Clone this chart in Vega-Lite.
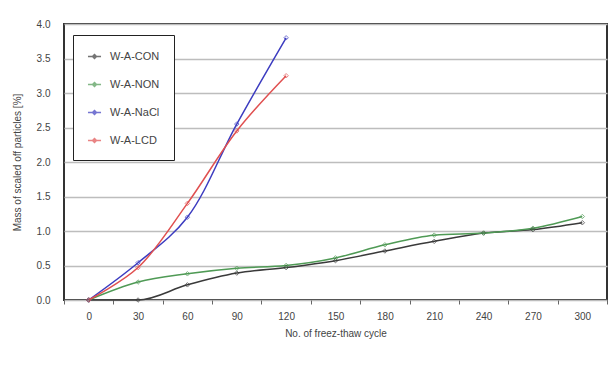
{
  "$schema": "https://vega.github.io/schema/vega-lite/v6.json",
  "autosize": {"type": "none"},
  "width": 543,
  "height": 276,
  "padding": {"left": 64, "top": 24, "right": 4, "bottom": 73},
  "background": "white",
  "config": {
    "font": "Liberation Sans",
    "view": {"stroke": "#333333", "strokeWidth": 2},
    "axis": {"labelColor": "#444", "titleColor": "#444", "labelFontSize": 10, "titleFontSize": 10, "titleFontWeight": "normal"}
  },
  "data": {
    "values": [
      {"cycle": 0, "series": "W-A-CON", "mass": 0.0},
      {"cycle": 30, "series": "W-A-CON", "mass": 0.0},
      {"cycle": 60, "series": "W-A-CON", "mass": 0.22},
      {"cycle": 90, "series": "W-A-CON", "mass": 0.39},
      {"cycle": 120, "series": "W-A-CON", "mass": 0.47},
      {"cycle": 150, "series": "W-A-CON", "mass": 0.57},
      {"cycle": 180, "series": "W-A-CON", "mass": 0.71},
      {"cycle": 210, "series": "W-A-CON", "mass": 0.85},
      {"cycle": 240, "series": "W-A-CON", "mass": 0.97},
      {"cycle": 270, "series": "W-A-CON", "mass": 1.02},
      {"cycle": 300, "series": "W-A-CON", "mass": 1.12},
      {"cycle": 0, "series": "W-A-NON", "mass": 0.0},
      {"cycle": 30, "series": "W-A-NON", "mass": 0.26},
      {"cycle": 60, "series": "W-A-NON", "mass": 0.38},
      {"cycle": 90, "series": "W-A-NON", "mass": 0.46},
      {"cycle": 120, "series": "W-A-NON", "mass": 0.5},
      {"cycle": 150, "series": "W-A-NON", "mass": 0.61},
      {"cycle": 180, "series": "W-A-NON", "mass": 0.8},
      {"cycle": 210, "series": "W-A-NON", "mass": 0.94},
      {"cycle": 240, "series": "W-A-NON", "mass": 0.97},
      {"cycle": 270, "series": "W-A-NON", "mass": 1.04},
      {"cycle": 300, "series": "W-A-NON", "mass": 1.21},
      {"cycle": 0, "series": "W-A-NaCl", "mass": 0.0},
      {"cycle": 30, "series": "W-A-NaCl", "mass": 0.54},
      {"cycle": 60, "series": "W-A-NaCl", "mass": 1.2},
      {"cycle": 90, "series": "W-A-NaCl", "mass": 2.55},
      {"cycle": 120, "series": "W-A-NaCl", "mass": 3.8},
      {"cycle": 0, "series": "W-A-LCD", "mass": 0.0},
      {"cycle": 30, "series": "W-A-LCD", "mass": 0.47},
      {"cycle": 60, "series": "W-A-LCD", "mass": 1.4},
      {"cycle": 90, "series": "W-A-LCD", "mass": 2.45},
      {"cycle": 120, "series": "W-A-LCD", "mass": 3.25}
    ]
  },
  "encoding": {
    "x": {
      "field": "cycle",
      "type": "ordinal",
      "scale": {"type": "band", "paddingInner": 0, "paddingOuter": 0},
      "axis": {
        "title": "No. of freez-thaw cycle",
        "labelAngle": 0,
        "domain": false,
        "tickBand": "extent",
        "tickSize": 4,
        "tickColor": "#666",
        "labelPadding": 7,
        "titlePadding": 7
      }
    },
    "y": {
      "field": "mass",
      "type": "quantitative",
      "scale": {"domain": [0, 4]},
      "axis": {
        "title": "Mass of scaled off particles [%]",
        "values": [0, 0.5, 1, 1.5, 2, 2.5, 3, 3.5, 4],
        "format": ".1f",
        "domain": false,
        "ticks": false,
        "labelPadding": 14,
        "titlePadding": 14,
        "gridColor": "#bdbdbd",
        "gridWidth": 1.5,
        "gridOpacity": 1
      }
    },
    "color": {
      "field": "series",
      "type": "nominal",
      "sort": ["W-A-CON", "W-A-NON", "W-A-NaCl", "W-A-LCD"],
      "scale": {
        "domain": ["W-A-CON", "W-A-NON", "W-A-NaCl", "W-A-LCD"],
        "range": ["#3a3a3a", "#4f9a55", "#3c3cc0", "#e05050"]
      },
      "legend": {
        "title": null,
        "orient": "none",
        "legendX": 9,
        "legendY": 11,
        "fillColor": "white",
        "strokeColor": "#222",
        "padding": 14,
        "rowPadding": 15,
        "labelFontSize": 11,
        "labelColor": "#444",
        "symbolType": "M-1,0H1M0,-0.3L0.3,0L0,0.3L-0.3,0Z",
        "symbolSize": 170,
        "symbolStrokeWidth": 1.5,
        "labelOffset": 8
      }
    }
  },
  "layer": [
    {
      "transform": [{"filter": "datum.series === 'W-A-CON' || datum.series === 'W-A-NON'"}],
      "mark": {"type": "line", "interpolate": "monotone", "strokeWidth": 1.5}
    },
    {
      "transform": [{"filter": "datum.series === 'W-A-NaCl' || datum.series === 'W-A-LCD'"}],
      "mark": {"type": "line", "interpolate": "catmull-rom", "strokeWidth": 1.5}
    },
    {"mark": {"type": "point", "shape": "diamond", "size": 20, "filled": false, "strokeWidth": 1}}
  ]
}
